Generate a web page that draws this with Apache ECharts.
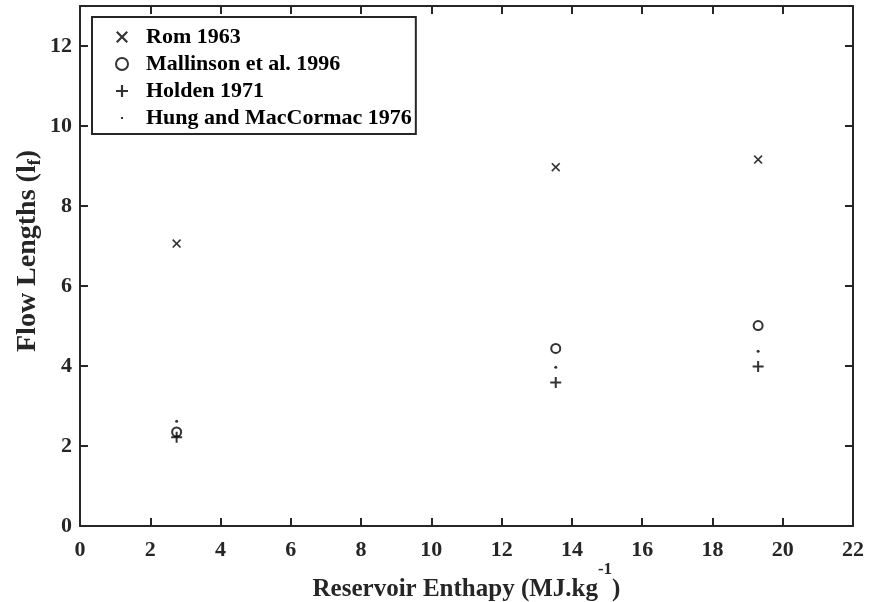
<!DOCTYPE html>
<html>
<head>
<meta charset="utf-8">
<script src="https://cdn.jsdelivr.net/npm/echarts@6/dist/echarts.min.js"></script>
<style>html,body{margin:0;padding:0;background:#fff}#c{width:869px;height:602px}</style>
</head>
<body>
<div id="c"></div>
<script>
// Data
const enthalpy = [2.75, 13.54, 19.3];
const romValues = [7.06, 8.97, 9.16];
const mallinsonValues = [2.35, 4.44, 5.01];
const holdenValues = [2.22, 3.59, 3.99];
const hungValues = [2.62, 3.97, 4.37];
const seriesNames = ['Rom 1963', 'Mallinson et al. 1996', 'Holden 1971', 'Hung and MacCormac 1976'];
const xTicks = {min: 0, max: 22, interval: 2};
const yTicks = {min: 0, max: 13, interval: 2};

const pairs = (xs, ys) => xs.map((x, i) => [x, ys[i]]);
const FONT = '"Liberation Serif", "Times New Roman", serif';
const INK = '#262626';
const crossPath = 'path://M0,1.3 L1.3,0 L5,3.7 L8.7,0 L10,1.3 L6.3,5 L10,8.7 L8.7,10 L5,6.3 L1.3,10 L0,8.7 L3.7,5 Z';
const plusPath = 'path://M4.5,0 L6.5,0 L6.5,4.5 L11,4.5 L11,6.5 L6.5,6.5 L6.5,11 L4.5,11 L4.5,6.5 L0,6.5 L0,4.5 L4.5,4.5 Z';
const dotLegend = 'path://M0,0 M12,12 M5,5 L7,5 L7,7 L5,7 Z';

const chart = echarts.init(document.getElementById('c'), null, {renderer: 'canvas'});
const labelStyle = {color: INK, fontFamily: FONT, fontWeight: 'bold', fontSize: 22};
const frameAxis = {
  axisLine: {show: true, onZero: false, lineStyle: {color: INK, width: 2}},
  axisTick: {show: true, inside: true, length: 8, lineStyle: {color: INK, width: 2}},
  axisLabel: {show: false},
  splitLine: {show: false}
};
chart.setOption({
  animation: false,
  backgroundColor: '#fff',
  grid: {left: 80, right: 16, top: 6, bottom: 76, containLabel: false, outerBoundsMode: 'none'},
  legend: {
    orient: 'vertical',
    left: 92, top: 17,
    padding: [9, 4, 5, 23],
    itemWidth: 38, itemHeight: 12, itemGap: 5,
    borderColor: INK, borderWidth: 2, backgroundColor: '#fff',
    textStyle: {color: '#000', fontFamily: FONT, fontWeight: 'bold', fontSize: 22, lineHeight: 22},
    data: [
      {name: seriesNames[0]},
      {name: seriesNames[1]},
      {name: seriesNames[2]},
      {name: seriesNames[3], icon: dotLegend}
    ]
  },
  xAxis: [
    Object.assign({
      type: 'value', position: 'bottom', min: xTicks.min, max: xTicks.max, interval: xTicks.interval,
      name: 'Reservoir Enthapy (MJ.kg{sup|-1})', nameLocation: 'middle', nameGap: 35, nameMoveOverlap: false,
      nameTextStyle: {color: INK, fontFamily: FONT, fontWeight: 'bold', fontSize: 25, lineHeight: 58,
        rich: {sup: {fontFamily: FONT, fontWeight: 'bold', fontSize: 17, lineHeight: 17, verticalAlign: 'top', color: INK}}}
    }, frameAxis, {axisLabel: Object.assign({show: true, margin: 13}, labelStyle)}),
    Object.assign({type: 'value', position: 'top', min: xTicks.min, max: xTicks.max, interval: xTicks.interval}, frameAxis)
  ],
  yAxis: [
    Object.assign({
      type: 'value', position: 'left', min: yTicks.min, max: yTicks.max, interval: yTicks.interval,
      name: 'Flow Lengths (l{sub|f})', nameLocation: 'middle', nameGap: 37, nameMoveOverlap: false,
      nameTextStyle: {color: INK, fontFamily: FONT, fontWeight: 'bold', fontSize: 28, lineHeight: 30, padding: [0, 0, 0, 30],
        rich: {sub: {fontFamily: FONT, fontWeight: 'bold', fontSize: 18, lineHeight: 16, padding: [14, 0, 0, 0], color: INK}}}
    }, frameAxis, {axisLabel: Object.assign({show: true, margin: 8, showMaxLabel: false}, labelStyle)}),
    Object.assign({type: 'value', position: 'right', min: yTicks.min, max: yTicks.max, interval: yTicks.interval}, frameAxis)
  ],
  series: [
    {name: seriesNames[0], type: 'scatter', data: pairs(enthalpy, romValues), symbol: crossPath, symbolSize: 9,
      itemStyle: {color: '#000'}},
    {name: seriesNames[1], type: 'scatter', data: pairs(enthalpy, mallinsonValues), symbol: 'emptyCircle', symbolSize: 9,
      itemStyle: {color: '#000', borderColor: '#000', borderWidth: 2}},
    {name: seriesNames[2], type: 'scatter', data: pairs(enthalpy, holdenValues), symbol: plusPath, symbolSize: 11,
      itemStyle: {color: '#000'}},
    {name: seriesNames[3], type: 'scatter', data: pairs(enthalpy, hungValues), symbol: 'circle', symbolSize: 3,
      itemStyle: {color: '#000'}}
  ]
});
</script>
</body>
</html>
